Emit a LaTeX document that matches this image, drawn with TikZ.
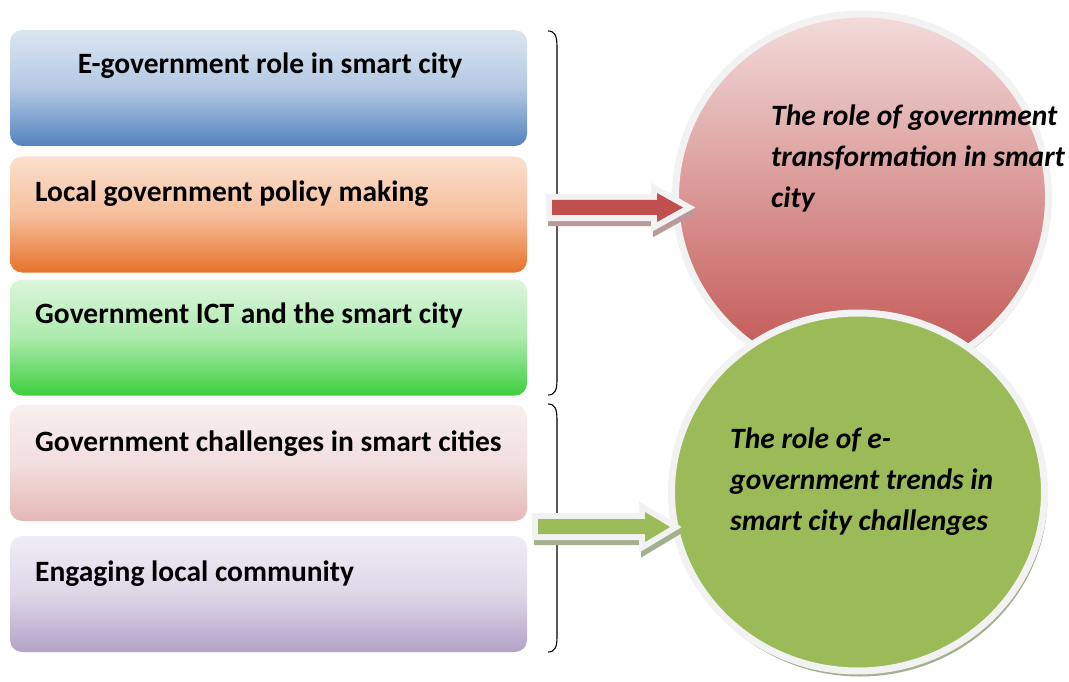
\documentclass[tikz,border=0pt]{standalone}
\usepackage{fontspec}
\setmainfont{Carlito}
\usetikzlibrary{shapes.geometric}

\definecolor{blueT}{HTML}{DCE6F2}\definecolor{blueB}{HTML}{5383BF}
\definecolor{orngT}{HTML}{FBE0CD}\definecolor{orngB}{HTML}{E8722B}
\definecolor{grnT}{HTML}{DDF6DD}\definecolor{grnB}{HTML}{3CCF3C}
\definecolor{roseT}{HTML}{F8EFEF}\definecolor{roseB}{HTML}{E5B8B7}
\definecolor{lilT}{HTML}{EFEDF5}\definecolor{lilB}{HTML}{B3A2C8}
\definecolor{redT}{HTML}{F2DCDB}\definecolor{redB}{HTML}{C0504D}
\definecolor{olive}{HTML}{9BBB59}
\definecolor{rim}{HTML}{F2F2F2}
\definecolor{redshade}{HTML}{B89A9A}
\definecolor{grnshade}{HTML}{A3B08E}

\tikzset{
  topicbox/.style 2 args={rounded corners=12pt, minimum width=517pt, minimum height=116pt,
    top color=#1, bottom color=#2, middle color=#1!70!#2, inner sep=0pt},
  topic/.style={font=\bfseries\fontsize{29.5}{34}\selectfont, inner sep=0pt},
  ring/.style={ellipse, draw=rim, line width=7pt, inner sep=0pt},
  halo/.style={ellipse, inner sep=0pt},
  theme/.style={font=\bfseries\itshape\fontsize{29.5}{41}\selectfont, align=left, inner sep=0pt},
  bracket/.style={line width=1.1pt, black},
  blockarrow/.style={preaction={draw=#1, line width=12pt, line join=miter, miter limit=10}},
  arrowshadow/.style={draw=#1, fill=#1, line width=12pt, line join=miter, miter limit=10},
}

\begin{document}
\begin{tikzpicture}[x=1pt, y=-1pt]
\useasboundingbox (0,0) rectangle (1069,682);

% topic boxes
\node[topicbox={blueT}{blueB}] (b1) at (268.5,88) {};
\node[topicbox={orngT}{orngB}] (b2) at (268.5,214.5) {};
\node[topicbox={grnT}{grnB}]   (b3) at (268.5,337.5) {};
\node[topicbox={roseT}{roseB}] (b4) at (268.5,463) {};
\node[topicbox={lilT}{lilB}]   (b5) at (268.5,594) {};

\node[topic, anchor=base] (t1) at (270,74) {E-government role in smart city};
\node[topic, anchor=base west] (t2) at (35,201) {Local government policy making};
\node[topic, anchor=base west] (t3) at (35,323) {Government ICT and the smart city};
\node[topic, anchor=base west] (t4) at (35,451) {Government challenges in smart cities};
\node[topic, anchor=base west] (t5) at (35,581) {Engaging local community};

% braces grouping the topics
\coordinate (br1a) at (548,31);
\coordinate (br1b) at (548,395);
\coordinate (br2a) at (548,404);
\coordinate (br2b) at (548,652);
\draw[bracket] (br1a) .. controls (555,31) and (557,36) .. (557,47) -- (557,200)
  .. controls (557,207) and (559,211) .. (563,211) .. controls (559,211) and (557,215) .. (557,222)
  -- (557,380) .. controls (557,390) and (555,395) .. (br1b);
\draw[bracket] (br2a) .. controls (555,404) and (557,409) .. (557,420) -- (557,517)
  .. controls (557,524) and (559,528) .. (563,528) .. controls (559,528) and (557,532) .. (557,539)
  -- (557,637) .. controls (557,647) and (555,652) .. (br2b);

% upper theme circle
\node[halo, fill=redshade, minimum width=374pt, minimum height=368pt] (gs) at (863,200) {};
\node[ring, top color=redT, bottom color=redB, minimum width=373pt, minimum height=366pt] (gov) at (862,197) {};

% arrow into the upper circle
\begin{scope}[shift={(2,5)}]
\draw[arrowshadow=redshade] (552,200) -- (657,200) -- (657,193) -- (683,207.5) -- (657,222) -- (657,215) -- (552,215) -- cycle;
\end{scope}
\fill[blockarrow=rim, redB] (552,200) -- (657,200) -- (657,193) -- (683,207.5) -- (657,222) -- (657,215) -- (552,215) -- cycle;

% lower theme circle
\node[halo, fill=grnshade, minimum width=375pt, minimum height=361pt] (es) at (860,496) {};
\node[ring, fill=olive, minimum width=373pt, minimum height=358pt] (egov) at (858,492) {};

% arrow into the lower circle
\begin{scope}[shift={(2,5)}]
\draw[arrowshadow=grnshade] (538,519) -- (645,519) -- (645,512) -- (670,527) -- (645,542) -- (645,534) -- (538,534) -- cycle;
\end{scope}
\fill[blockarrow=rim, olive] (538,519) -- (645,519) -- (645,512) -- (670,527) -- (645,542) -- (645,534) -- (538,534) -- cycle;

% circle captions
\node[theme, anchor=north west] (c1) at (771,105) {The role of government\\transformation in smart\\city};
\node[theme, anchor=north west] (c2) at (730,428) {The role of e-\\government trends in\\smart city challenges};
\end{tikzpicture}
\end{document}
